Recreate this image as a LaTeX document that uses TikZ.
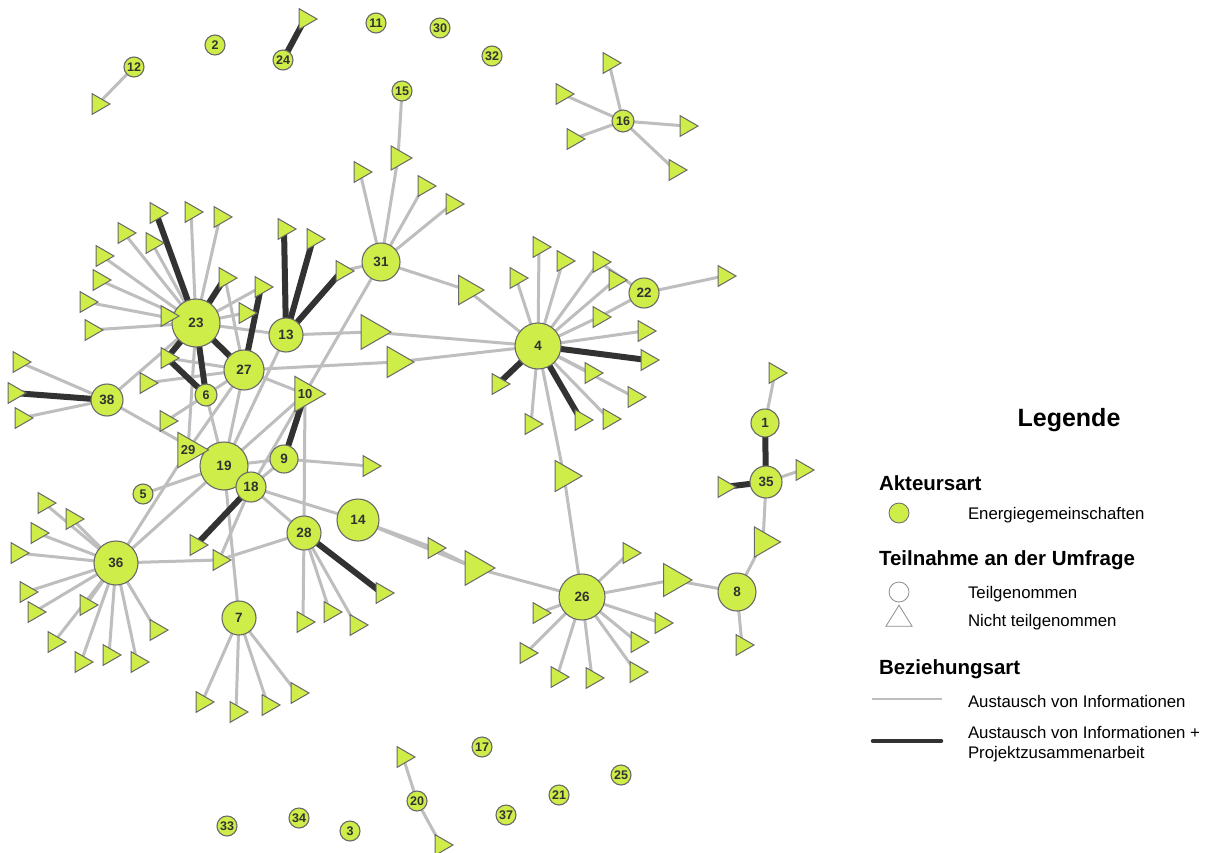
\documentclass[tikz,border=0pt]{standalone}
\usepackage{fontspec}
\setmainfont{Liberation Sans}
\usetikzlibrary{shapes.geometric}
\pgfdeclarelayer{bg}
\pgfsetlayers{bg,main}
\definecolor{nodefill}{RGB}{206,237,72}
\definecolor{nodeline}{RGB}{105,105,105}
\definecolor{infoedge}{RGB}{190,190,190}
\definecolor{projedge}{RGB}{50,50,50}
\definecolor{labeltext}{RGB}{50,50,50}
\begin{document}
\begin{tikzpicture}[x=1pt,y=-1pt,
  ee/.style={circle, fill=nodefill, draw=nodeline, line width=1.1pt, inner sep=0pt,
    font=\bfseries\fontsize{13.5}{13.5}\selectfont, text=labeltext},
  sm/.style={ee, minimum size=20, font=\bfseries\fontsize{12.5}{12.5}\selectfont},
  tri/.style={regular polygon, regular polygon sides=3, shape border rotate=-90,
    fill=nodefill, draw=nodeline, line width=1pt, inner sep=0pt, minimum size=24,
    font=\bfseries\fontsize{13}{13}\selectfont, text=labeltext},
  info/.style={infoedge, line width=3pt},
  proj/.style={projedge, line width=6pt},
  txt/.style={inner sep=0pt, outer sep=0pt, anchor=base west, font=\fontsize{16.8}{16.8}\selectfont},
  head/.style={inner sep=0pt, outer sep=0pt, anchor=base west, font=\bfseries\fontsize{20.5}{20.5}\selectfont}
]
\useasboundingbox (0,0) rectangle (1206,853);

% ---------- circle nodes ----------
\node[sm] (n12) at (134,67) {12};
\node[sm] (n2) at (215,45) {2};
\node[sm] (n24) at (283,60) {24};
\node[sm] (n11) at (376,23) {11};
\node[sm] (n30) at (440,28) {30};
\node[sm] (n32) at (492,56) {32};
\node[sm] (n15) at (402,91) {15};
\node[sm, minimum size=22] (n16) at (623,121) {16};
\node[ee, minimum size=38] (n31) at (381,262) {31};
\node[ee, minimum size=30] (n22) at (644,293) {22};
\node[ee, minimum size=48] (n23) at (196,323) {23};
\node[ee, minimum size=34] (n13) at (286,335) {13};
\node[ee, minimum size=46] (n4) at (538,346) {4};
\node[ee, minimum size=40] (n27) at (244,370) {27};
\node[sm, minimum size=22] (n6) at (206,395) {6};
\node[ee, minimum size=32] (n38) at (107,400) {38};
\node[ee, minimum size=48] (n19) at (224,466) {19};
\node[ee, minimum size=28] (n9) at (284,459) {9};
\node[ee, minimum size=30] (n18) at (251,487) {18};
\node[sm] (n5) at (143,494) {5};
\node[ee, minimum size=42] (n14) at (358,520) {14};
\node[ee, minimum size=34] (n28) at (304,533) {28};
\node[ee, minimum size=44] (n36) at (116,563) {36};
\node[ee, minimum size=34] (n7) at (239,618) {7};
\node[ee, minimum size=46] (n26) at (582,597) {26};
\node[ee, minimum size=38] (n8) at (737,592) {8};
\node[ee, minimum size=28] (n1) at (765,423) {1};
\node[ee, minimum size=32] (n35) at (766,482) {35};
\node[sm] (n17) at (482,747) {17};
\node[sm] (n25) at (621,775) {25};
\node[sm] (n21) at (559,795) {21};
\node[sm] (n37) at (506,815) {37};
\node[sm] (n20) at (417,801) {20};
\node[sm] (n33) at (227,826) {33};
\node[sm] (n34) at (299,818) {34};
\node[sm] (n3) at (350,831) {3};

% ---------- labelled triangles ----------
\node[tri, minimum size=35] (n10) at (305,394) {10};
\node[tri, minimum size=32] (n29) at (188,450) {29};

% ---------- triangles ----------
\node[tri] (ta) at (98,104) {};
\node[tri] (tb) at (305,19) {};
\node[tri] (tc1) at (609,63) {};
\node[tri] (tc2) at (562,94) {};
\node[tri] (tc3) at (686,126) {};
\node[tri] (tc4) at (573,139) {};
\node[tri] (tc5) at (675,170) {};
\node[tri] (td1) at (360,172) {};
\node[tri, minimum size=28] (td2) at (398,158) {};
\node[tri] (td3) at (424,186) {};
\node[tri] (td4) at (452,204) {};
\node[tri] (td5) at (342,271) {};
\node[tri, minimum size=34] (td6) at (467,290) {};
\node[tri] (te1) at (284,229) {};
\node[tri] (te2) at (313,239) {};
\node[tri, minimum size=40] (te3) at (371,332) {};
\node[tri, minimum size=36] (te4) at (396,362) {};
\node[tri] (tf1) at (156,213) {};
\node[tri] (tf2) at (191,212) {};
\node[tri] (tf3) at (220,217) {};
\node[tri] (tf4) at (124,233) {};
\node[tri] (tf5) at (152,243) {};
\node[tri] (tf6) at (102,256) {};
\node[tri] (tf7) at (99,280) {};
\node[tri] (tf8) at (86,302) {};
\node[tri] (tf9) at (91,330) {};
\node[tri] (tf10) at (167,316) {};
\node[tri] (tf11) at (225,278) {};
\node[tri] (tf12) at (261,287) {};
\node[tri] (tf13) at (245,313) {};
\node[tri] (tf14) at (167,358) {};
\node[tri] (tf15) at (146,383) {};
\node[tri] (tf16) at (166,421) {};
\node[tri] (tg1) at (19,362) {};
\node[tri] (tg2) at (14,393) {};
\node[tri] (tg3) at (21,418) {};
\node[tri] (th1) at (539,247) {};
\node[tri] (th2) at (563,261) {};
\node[tri] (th3) at (516,278) {};
\node[tri] (th4) at (599,262) {};
\node[tri] (th5) at (615,280) {};
\node[tri] (th6) at (599,317) {};
\node[tri] (th7) at (644,331) {};
\node[tri] (th8) at (647,360) {};
\node[tri] (th9) at (591,373) {};
\node[tri] (th10) at (634,397) {};
\node[tri] (th11) at (609,419) {};
\node[tri] (th12) at (581,420) {};
\node[tri] (th13) at (531,424) {};
\node[tri] (th14) at (498,384) {};
\node[tri] (ti1) at (724,276) {};
\node[tri, minimum size=36] (tj) at (564,476) {};
\node[tri] (tk) at (369,466) {};
\node[tri] (tl1) at (196,545) {};
\node[tri] (tl2) at (219,560) {};
\node[tri] (tm1) at (382,593) {};
\node[tri] (tm2) at (303,622) {};
\node[tri] (tm3) at (330,612) {};
\node[tri] (tm4) at (356,625) {};
\node[tri] (tn1) at (434,548) {};
\node[tri, minimum size=40] (tn2) at (475,568) {};
\node[tri] (to1) at (629,553) {};
\node[tri, minimum size=38] (to2) at (673,580) {};
\node[tri] (to3) at (539,613) {};
\node[tri] (to4) at (661,623) {};
\node[tri] (to5) at (637,642) {};
\node[tri] (to6) at (526,653) {};
\node[tri] (to7) at (557,677) {};
\node[tri] (to8) at (592,678) {};
\node[tri] (to9) at (636,672) {};
\node[tri] (tp1) at (742,645) {};
\node[tri, minimum size=35] (tp2) at (763,542) {};
\node[tri] (tq1) at (802,470) {};
\node[tri] (tq2) at (724,487) {};
\node[tri] (tr) at (775,373) {};
\node[tri] (ts1) at (44,503) {};
\node[tri] (ts2) at (72,519) {};
\node[tri] (ts3) at (37,533) {};
\node[tri] (ts4) at (17,553) {};
\node[tri] (ts5) at (26,592) {};
\node[tri] (ts6) at (34,612) {};
\node[tri] (ts7) at (86,605) {};
\node[tri] (ts8) at (54,642) {};
\node[tri] (ts9) at (81,662) {};
\node[tri] (ts10) at (109,655) {};
\node[tri] (ts11) at (137,662) {};
\node[tri] (ts12) at (156,630) {};
\node[tri] (tt1) at (202,702) {};
\node[tri] (tt2) at (236,712) {};
\node[tri] (tt3) at (268,705) {};
\node[tri] (tt4) at (297,693) {};
\node[tri] (tu1) at (403,757) {};
\node[tri] (tu2) at (441,845) {};

% ---------- edges ----------
\begin{pgfonlayer}{bg}
\fill[white] (0,0) rectangle (1206,853);
\foreach \a/\b in {n12/ta, n16/tc1, n16/tc2, n16/tc3, n16/tc4, n16/tc5,
  n15/td2, n31/td1, n31/td2, n31/td3, n31/td4, n31/td5, n31/td6, n31/n18,
  td6/n4, n13/te3, te3/n4, n23/n13, n27/te4, te4/n4, n13/n19,
  n23/tf2, n23/tf3, n23/tf4, n23/tf5, n23/tf6, n23/tf7, n23/tf8, n23/tf9, n23/tf10,
  n23/tf12, n23/tf13, tf11/n27, tf14/n27, tf15/n27, tf16/n6,
  n6/n19, n6/n27, n27/n19, n27/n10, n27/n29, n29/n23, n29/n36,
  n38/tg1, n38/tg3, n38/n23, n38/n19,
  n4/th1, n4/th2, n4/th3, n4/th4, n4/th5, n4/th6, n4/th7, n4/th9, n4/th10, n4/th11, n4/th13, n4/tj,
  n22/th4, n22/th6, n22/ti1, tj/n26,
  n9/tk, n9/n19, n9/n18, n10/n28, n19/n10,
  n18/n19, n18/n14, n18/n28, n18/tl2, n36/tl2, n28/tl2,
  n28/tm2, n28/tm3, n28/tm4, n14/tn1, n14/tn2, tn1/tn2, tn2/n26,
  n26/to1, n26/to2, n26/to3, n26/to4, n26/to5, n26/to6, n26/to7, n26/to8, n26/to9,
  to2/n8, n8/tp1, n8/tp2, tp2/n35, n35/tq1, n1/tr,
  n36/ts1, n36/ts2, n36/ts3, n36/ts4, n36/ts5, n36/ts6, n36/ts7, n36/ts8, n36/ts9,
  n36/ts10, n36/ts11, n36/ts12, n36/n19, n5/n19, n19/n7,
  n7/tt1, n7/tt2, n7/tt3, n7/tt4, n20/tu1, n20/tu2}
  {\draw[info] (\a.center) -- (\b.center);}
\foreach \a/\b in {n24/tb, n13/te1, n13/te2, n13/td5,
  n23/tf1, n23/tf11, n23/tf14, tf14/n6, n23/n6, n23/n27, n27/tf12,
  n38/tg2, n4/th8, n4/th12, n4/th14, n10/n9, n18/tl1, n28/tm1, n1/n35, n35/tq2}
  {\draw[proj] (\a.center) -- (\b.center);}
\end{pgfonlayer}

% ---------- legend ----------
\node[inner sep=0pt, anchor=base, font=\bfseries\fontsize{25}{25}\selectfont] (legtitle) at (1069,426) {Legende};
\node[head] (h1) at (879,490) {Akteursart};
\node[circle, fill=nodefill, draw=nodeline, line width=0.8pt, minimum size=20, inner sep=0pt] (s1) at (899,513) {};
\node[txt] (l1) at (968,519) {Energiegemeinschaften};
\node[head] (h2) at (879,565) {Teilnahme an der Umfrage};
\node[circle, draw=black!45, line width=0.8pt, minimum size=20, inner sep=0pt] (s2) at (899,592) {};
\node[txt] (l2) at (968,598) {Teilgenommen};
\node[isosceles triangle, isosceles triangle apex angle=64, shape border rotate=90, draw=black!45, line width=0.8pt, minimum height=21, inner sep=0pt] (s3) at (899,619) {};
\node[txt] (l3) at (968,626) {Nicht teilgenommen};
\node[head] (h3) at (879,674) {Beziehungsart};
\coordinate (g1a) at (872,699);
\coordinate (g1b) at (942,699);
\draw[infoedge, line width=2pt] (g1a) -- (g1b);
\node[txt] (l4) at (968,707) {Austausch von Informationen};
\coordinate (g2a) at (873,741);
\coordinate (g2b) at (941,741);
\draw[projedge, line width=4.5pt, line cap=round] (g2a) -- (g2b);
\node[txt] (l5) at (968,738) {Austausch von Informationen +};
\node[txt] (l6) at (968,758) {Projektzusammenarbeit};
\end{tikzpicture}
\end{document}
